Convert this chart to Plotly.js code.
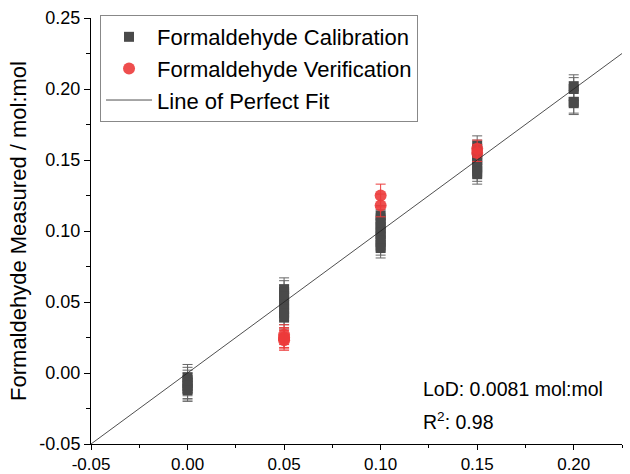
<!DOCTYPE html>
<html>
<head>
<meta charset="utf-8">
<script src="https://cdn.plot.ly/plotly-3.0.1.min.js"></script>
<style>html,body{margin:0;padding:0;background:#fff;}#chart{width:630px;height:474px;}</style>
</head>
<body>
<div id="chart"></div>
<script>
// Calibration data (nominal vs measured, mol:mol)
var calX = [0,0,0,0,0,0,
            0.05,0.05,0.05,0.05,0.05,0.05,0.05,0.05,
            0.10,0.10,0.10,0.10,0.10,0.10,0.10,0.10,0.10,
            0.15,0.15,0.15,0.15,0.15,0.15,0.15,0.15,
            0.20,0.20,0.20,0.20];
var calY = [-0.003,-0.005,-0.007,-0.009,-0.011,-0.012,
            0.059,0.057,0.054,0.051,0.048,0.045,0.042,0.039,
            0.111,0.108,0.105,0.102,0.099,0.096,0.093,0.090,0.088,
            0.160,0.157,0.154,0.151,0.148,0.145,0.142,0.140,
            0.202,0.200,0.191,0.190];
var calErr = [0.009,0.009,0.009,0.009,0.008,0.008,
              0.008,0.008,0.008,0.008,0.008,0.008,0.008,0.008,
              0.007,0.007,0.007,0.007,0.007,0.007,0.007,0.007,0.007,
              0.007,0.007,0.007,0.007,0.007,0.007,0.007,0.007,
              0.008,0.008,0.008,0.008];
// Verification data
var verX = [0.05,0.05,0.05,0.05, 0.10,0.10, 0.15,0.15];
var verY = [0.027,0.025,0.024,0.023, 0.125,0.118, 0.158,0.155];
var verErr = [0.007,0.007,0.007,0.007, 0.008,0.008, 0.006,0.006];
// Line of perfect fit (y = x) over the axis range
var fitX = [-0.05, 0.225];
var fitY = fitX.slice();

var xTicks = [-0.05, 0.00, 0.05, 0.10, 0.15, 0.20];
var yTicks = [-0.05, 0.00, 0.05, 0.10, 0.15, 0.20, 0.25];

var fontFam = 'Liberation Sans, Arial, sans-serif';

var calTrace = {
  x: calX, y: calY, type: 'scatter', mode: 'markers',
  name: 'Formaldehyde Calibration',
  marker: {symbol: 'square', size: 10, color: '#4a4a4a'},
  error_y: {type: 'data', array: calErr, visible: true, color: '#666', thickness: 1, width: 5}
};
var verTrace = {
  x: verX, y: verY, type: 'scatter', mode: 'markers',
  name: 'Formaldehyde Verification',
  marker: {symbol: 'circle', size: 12, color: '#ec3b3b', opacity: 0.9},
  error_y: {type: 'data', array: verErr, visible: true, color: '#ec3b3b', thickness: 1, width: 5}
};
var fitTrace = {
  x: fitX, y: fitY, type: 'scatter', mode: 'lines',
  name: 'Line of Perfect Fit',
  line: {color: '#222', width: 0.8}
};

var layout = {
  width: 630, height: 474,
  margin: {l: 91, r: 8, t: 18, b: 30},
  paper_bgcolor: '#fff', plot_bgcolor: '#fff',
  font: {family: fontFam, color: '#000', size: 18},
  showlegend: true,
  legend: {
    x: 0.017, y: 1.007, xanchor: 'left', yanchor: 'top',
    bgcolor: '#fff', bordercolor: '#888', borderwidth: 1,
    font: {family: fontFam, size: 22, color: '#000'},
    itemwidth: 46, tracegroupgap: 0, traceorder: 'normal'
  },
  xaxis: {
    range: [-0.05, 0.225], tickvals: xTicks, ticktext: xTicks.map(function(v){return v.toFixed(2);}),
    showline: true, linecolor: '#000', linewidth: 1, mirror: false,
    ticks: 'outside', ticklen: 5, tickcolor: '#000', showgrid: false, zeroline: false,
    tickfont: {size: 17, family: fontFam},
    minor: {dtick: 0.025, tick0: 0, ticks: 'outside', ticklen: 3, tickcolor: '#000', showgrid: false}
  },
  yaxis: {
    range: [-0.05, 0.25], tickvals: yTicks, ticktext: yTicks.map(function(v){return v.toFixed(2);}),
    showline: true, linecolor: '#000', linewidth: 1, mirror: false,
    ticks: 'outside', ticklen: 6, tickcolor: '#000', showgrid: false, zeroline: false,
    tickfont: {size: 18, family: fontFam},
    minor: {dtick: 0.025, tick0: 0, ticks: 'outside', ticklen: 4, tickcolor: '#000', showgrid: false},
    title: {text: 'Formaldehyde Measured / mol:mol', font: {size: 22, family: fontFam}, standoff: 6}
  },
  annotations: [
    {xref: 'paper', yref: 'paper', x: 0.622, y: 0.129, xanchor: 'left', yanchor: 'middle',
     text: 'LoD: 0.0081 mol:mol', showarrow: false, font: {size: 19.5, family: fontFam, color: '#000'}},
    {xref: 'paper', yref: 'paper', x: 0.622, y: 0.054, xanchor: 'left', yanchor: 'middle',
     text: 'R<sup>2</sup>: 0.98', showarrow: false, font: {size: 19.5, family: fontFam, color: '#000'}}
  ]
};

Plotly.newPlot('chart', [calTrace, verTrace, fitTrace], layout, {displayModeBar: false, staticPlot: true});
</script>
</body>
</html>
